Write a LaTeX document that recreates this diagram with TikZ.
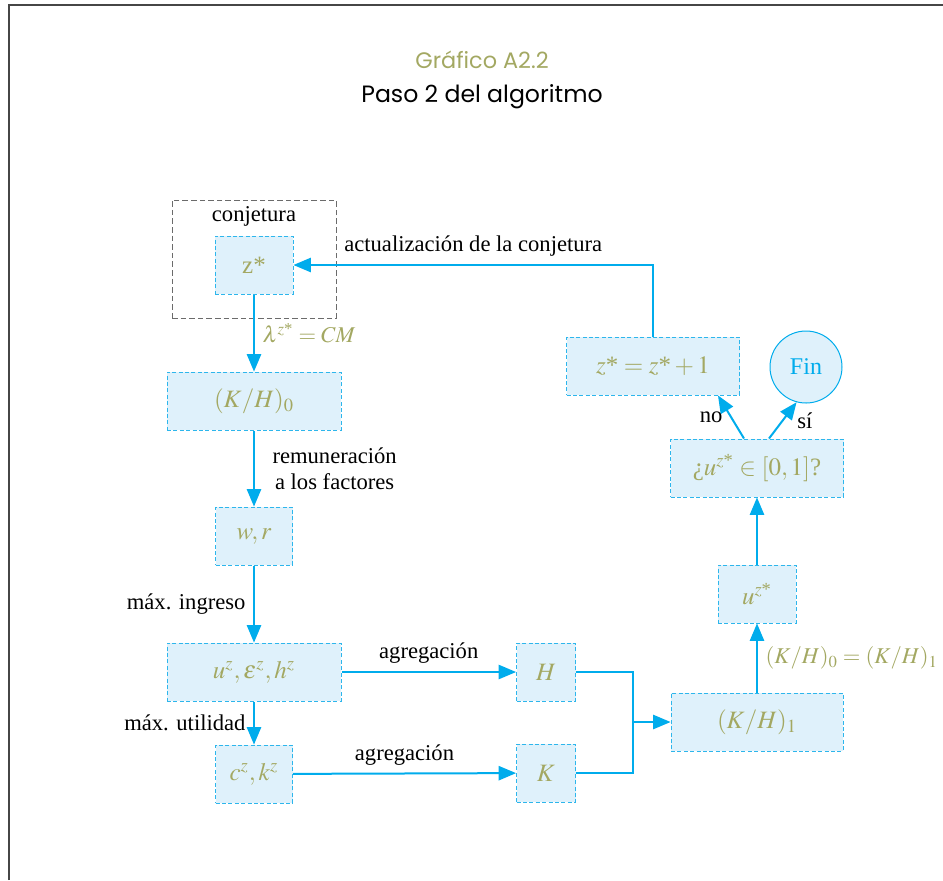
\documentclass[tikz,border=0pt]{standalone}
\usepackage{amsmath}
\usepackage{mathptmx}
\usepackage[no-math]{fontspec}
\setmainfont{Liberation Serif}
\newfontfamily\titlefont{Poppins}
\usepackage{tikz}
\usetikzlibrary{arrows,positioning}

\definecolor{cian}{RGB}{0,172,236}
\definecolor{borde}{RGB}{45,182,236}
\definecolor{celeste}{RGB}{223,241,251}
\definecolor{oliva}{RGB}{163,168,98}
\definecolor{marco}{RGB}{70,70,70}

\begin{document}
\begin{tikzpicture}[x=0.5pt,y=-0.5pt,>=triangle 45,node font=\fontsize{11.3}{13}\selectfont]
	\tikzstyle{caja}=[draw=borde,dash pattern=on 2pt off 1.2pt,line width=0.5pt,fill=celeste,minimum height=29pt,text=oliva,font=\fontsize{12.5}{15}\selectfont]
	\tikzstyle{flecha}=[cian,line width=1pt,every node/.append style={text=black}]
	
	\useasboundingbox (0,0) rectangle (943,880);
	\draw[marco,line width=1pt] (9,880) -- (9,5) -- (943,5);
	
	\node[text=oliva,font=\titlefont\fontsize{11.2}{13}\selectfont] (grafico) at (482,60) {Gráfico A2.2};
	\node[font=\titlefont\fontsize{11.8}{14}\selectfont] (titulo) at (482,97) {Paso 2 del algoritmo};
	
	\node[draw=marco!80,dash pattern=on 2.8pt off 1.5pt,line width=0.5pt,minimum width=82pt,minimum height=59pt] (conj) at (254,259) {};
	\node (conjlab) at (254,216) {conjetura};
	
	\node[caja,minimum width=39pt]   (zs)   at (254,265) {z*};
	\node[caja,minimum width=87pt]   (KH0)  at (254,401) {$(K/H)_0$};
	\node[caja,minimum width=38.5pt] (wr)   at (254,536) {$w, r$};
	\node[caja,minimum width=87pt]   (ueh)  at (254,672) {$u^z, \varepsilon^z, h^z$};
	\node[caja,minimum width=38.5pt] (ck)   at (254,774) {$c^z, k^z$};
	\node[caja,minimum width=29.5pt] (H)    at (546,672) {$H$};
	\node[caja,minimum width=29.5pt] (K)    at (546,773) {$K$};
	\node[caja,minimum width=86pt]   (KH1)  at (757,722) {$(K/H)_1$};
	\node[caja,minimum width=39pt]   (uz)   at (757,594) {$u^{z\text{*}}$};
	\node[caja,minimum width=86.5pt] (preg) at (757,468) {¿$u^{z\text{*}} \in [0,1]$?};
	\node[caja,minimum width=86.5pt] (znew) at (653,366) {$z\text{*} = z\text{*} + 1$};
	\node[circle,draw=cian,line width=0.5pt,fill=celeste,text=cian,minimum size=36pt,font=\fontsize{12}{14}\selectfont] (fin) at (806,367) {Fin};
	
	\coordinate (union) at (633,722);
	
	\path[flecha,->]
	(zs) edge node [right,text=oliva] {$\lambda^{z\text{*}} = CM$} (KH0)
	(KH0) edge node [right=5pt,align=center] {remuneración\\a los factores} (wr)
	(wr) edge node [left] {máx. ingreso} (ueh)
	(ueh) edge node [left] {máx. utilidad} (ck)
	(ueh) edge node [above] {agregación} (H)
	(ck) edge node [above] {agregación} (K)
	(union) edge (KH1)
	(KH1) edge node [right,text=oliva] {$(K/H)_0 = (K/H)_1$} (uz)
	(uz) edge (preg);
	
	\draw[flecha] (H.east) -| (union) (K.east) -| (union);
	\draw[flecha,->] ([xshift=-6.5pt]preg.north) -- node [left] {no} ([xshift=32.5pt]znew.south);
	\draw[flecha,->] ([xshift=6pt]preg.north) -- node [right=3pt] {sí} (fin.255);
	\draw[flecha,->] (znew.north) |- node [pos=0.75,above] {actualización de la conjetura} (zs.east);
\end{tikzpicture}
\end{document}
